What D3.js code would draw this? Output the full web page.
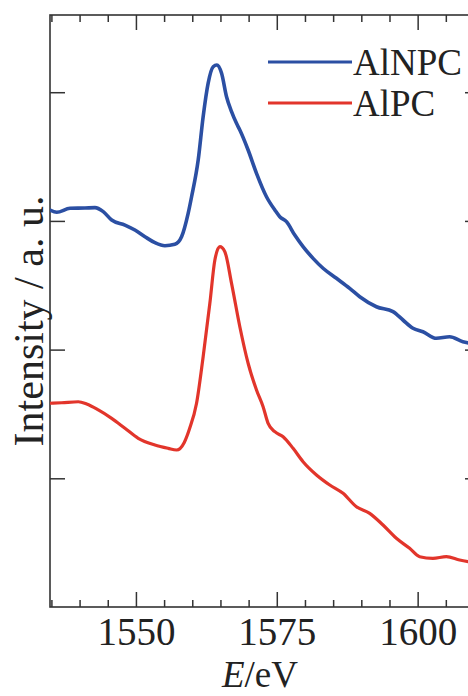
<!DOCTYPE html>
<html>
<head>
<meta charset="utf-8">
<script src="https://cdn.jsdelivr.net/npm/d3@7"></script>
<style>
  html, body { margin: 0; padding: 0; background: #fff; }
  svg { display: block; }
  text { font-family: "Liberation Serif", "Times New Roman", serif; fill: #222; }
</style>
</head>
<body>
<svg id="chart" width="468" height="696"></svg>
<script>
// Photon energy (eV) and intensity (a. u., offset) for the two spectra
const energyAlNPC = [1534.75, 1535.94, 1538.30, 1540.96, 1542.73, 1544.20, 1545.69, 1548.05, 1549.82,
  1551.60, 1553.37, 1555.14, 1556.91, 1558.10, 1559.27, 1559.87, 1561.05, 1561.93, 1562.82, 1563.71,
  1564.36, 1565.20, 1566.08, 1566.97, 1567.85, 1568.44, 1569.91, 1571.40, 1573.17, 1574.65, 1575.53,
  1576.72, 1578.19, 1579.66, 1581.44, 1583.21, 1585.59, 1587.94, 1589.72, 1592.68, 1595.62, 1597.39,
  1599.17, 1600.94, 1603.32, 1605.67, 1608.03, 1610.00];
const intensityAlNPC = [3.085, 3.067, 3.098, 3.100, 3.103, 3.072, 3.007, 2.968, 2.929,
  2.877, 2.831, 2.807, 2.818, 2.877, 3.059, 3.186, 3.473, 3.810, 4.071, 4.198,
  4.211, 4.147, 3.965, 3.849, 3.758, 3.706, 3.551, 3.370, 3.188, 3.085, 3.033,
  2.994, 2.890, 2.800, 2.709, 2.632, 2.554, 2.476, 2.411, 2.333, 2.295, 2.230,
  2.166, 2.139, 2.088, 2.100, 2.061, 2.045];

const energyAlPC = [1534.75, 1536.83, 1539.77, 1541.26, 1543.32, 1545.69, 1548.05, 1550.41, 1553.37,
  1555.73, 1557.22, 1558.58, 1559.50, 1560.76, 1561.93, 1563.12, 1564.01, 1564.89, 1565.78,
  1566.97, 1568.44, 1569.91, 1571.40, 1572.57, 1573.46, 1574.65, 1576.12, 1577.89, 1579.66, 1582.04,
  1584.40, 1586.76, 1589.13, 1591.49, 1593.85, 1596.22, 1598.58, 1600.35, 1602.71, 1605.09, 1607.45,
  1610.00];
const intensityAlPC = [1.583, 1.587, 1.595, 1.577, 1.531, 1.466, 1.389, 1.311, 1.259,
  1.233, 1.220, 1.279, 1.383, 1.583, 1.945, 2.360, 2.696, 2.800, 2.761,
  2.515, 2.178, 1.894, 1.686, 1.556, 1.427, 1.362, 1.323, 1.233, 1.129, 1.026,
  0.948, 0.883, 0.779, 0.728, 0.637, 0.534, 0.456, 0.391, 0.378, 0.391, 0.365,
  0.345];

const seriesNames = ["AlNPC", "AlPC"];
const seriesColors = ["#2b4fa3", "#e2352b"];
const xMajorTicks = [1550, 1575, 1600];
const xMinorTicks = [1535, 1540, 1545, 1555, 1560, 1565, 1570, 1580, 1585, 1590, 1595, 1605];
const yTicks = [1, 2, 3, 4];

const svg = d3.select("#chart");
const plot = { left: 50, right: 474, top: 15, bottom: 607 };

const x = d3.scaleLinear().domain([1534.75, 1610]).range([plot.left, plot.right]);
const y = d3.scaleLinear().domain([0, 4.6]).range([plot.bottom, plot.top]);

const axisColor = "#333";

// Mirrored ticks on all four sides, pointing inward
function drawAxis(axis, transform) {
  const g = svg.append("g").attr("transform", transform).call(axis);
  g.selectAll("path.domain").remove();
  g.selectAll("line").attr("stroke", axisColor).attr("stroke-width", 1.5);
  return g;
}

drawAxis(d3.axisBottom(x).tickValues(xMajorTicks).tickSize(-15).tickFormat(d3.format("d")),
  `translate(0,${plot.bottom})`)
  .selectAll("text").attr("y", 38).attr("dy", null).attr("font-size", 39)
  .style("font-family", "Liberation Serif").attr("fill", "#222");
drawAxis(d3.axisBottom(x).tickValues(xMinorTicks).tickSize(-7).tickFormat(""), `translate(0,${plot.bottom})`);
drawAxis(d3.axisTop(x).tickValues(xMajorTicks).tickSize(-15).tickFormat(""), `translate(0,${plot.top})`);
drawAxis(d3.axisTop(x).tickValues(xMinorTicks).tickSize(-7).tickFormat(""), `translate(0,${plot.top})`);
drawAxis(d3.axisLeft(y).tickValues(yTicks).tickSize(-15).tickFormat(""), `translate(${plot.left},0)`);
drawAxis(d3.axisRight(y).tickValues(yTicks).tickSize(-9).tickFormat(""), `translate(${plot.right},0)`);

// Frame
svg.append("rect")
  .attr("x", plot.left).attr("y", plot.top)
  .attr("width", plot.right - plot.left).attr("height", plot.bottom - plot.top)
  .attr("fill", "none").attr("stroke", axisColor).attr("stroke-width", 1.6);

// Spectra
const series = [
  energyAlNPC.map((e, i) => [e, intensityAlNPC[i]]),
  energyAlPC.map((e, i) => [e, intensityAlPC[i]])
];
const line = d3.line().x(d => x(d[0])).y(d => y(d[1])).curve(d3.curveMonotoneX);

svg.append("defs").append("clipPath").attr("id", "plotClip")
  .append("rect").attr("x", plot.left).attr("y", plot.top)
  .attr("width", plot.right - plot.left).attr("height", plot.bottom - plot.top);

svg.append("g").attr("clip-path", "url(#plotClip)")
  .selectAll("path.spec").data(series).join("path")
  .attr("class", "spec")
  .attr("d", line)
  .attr("fill", "none")
  .attr("stroke", (d, i) => seriesColors[i])
  .attr("stroke-width", (d, i) => i === 0 ? 3.6 : 3.2)
  .attr("stroke-linejoin", "round")
  .attr("stroke-linecap", "round");

// Legend
const legendRows = [62, 103];
const legend = svg.append("g");
seriesNames.forEach((name, i) => {
  legend.append("line")
    .attr("x1", 268).attr("x2", 352)
    .attr("y1", legendRows[i]).attr("y2", legendRows[i])
    .attr("stroke", seriesColors[i]).attr("stroke-width", 3);
  legend.append("text")
    .attr("x", 353).attr("y", legendRows[i] + 13)
    .attr("font-size", 37)
    .text(name);
});

// Axis titles
const xTitle = svg.append("text")
  .attr("x", (plot.left + plot.right) / 2 - 2).attr("y", 687)
  .attr("text-anchor", "middle").attr("font-size", 37);
xTitle.append("tspan").attr("font-style", "italic").text("E");
xTitle.append("tspan").text("/eV");

svg.append("text")
  .attr("transform", `translate(43,${(plot.top + plot.bottom) / 2 + 10}) rotate(-90)`)
  .attr("text-anchor", "middle").attr("font-size", 42)
  .text("Intensity / a. u.");
</script>
</body>
</html>
